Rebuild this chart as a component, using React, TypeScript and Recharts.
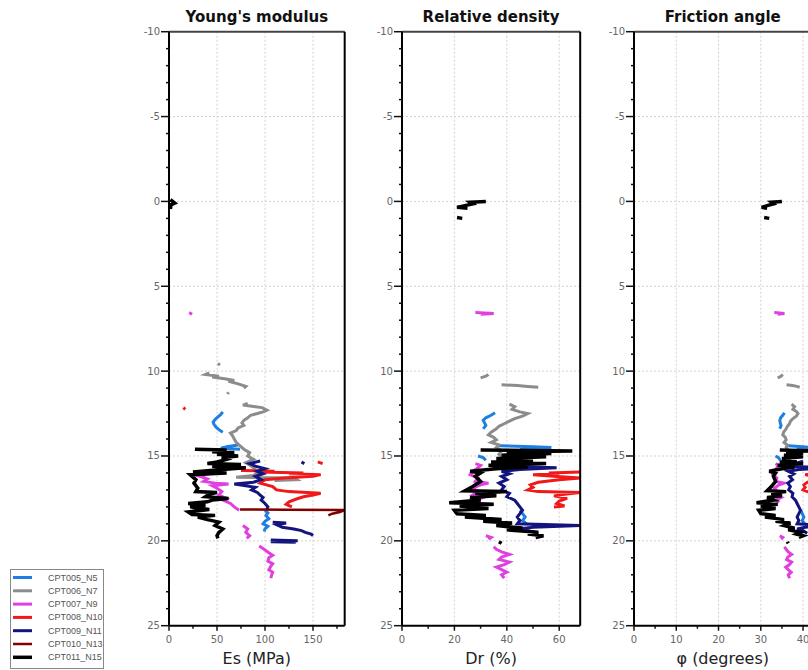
import { LineChart, Line, XAxis, YAxis, ReferenceLine } from "recharts";

type Pt = [number, number] | null;

const seriesNames = ["CPT005_N5", "CPT006_N7", "CPT007_N9", "CPT008_N10", "CPT009_N11", "CPT010_N13", "CPT011_N15"];
const seriesColors = ["#1f7fe0", "#8c8c8c", "#e040e0", "#f01818", "#14147f", "#800000", "#000000"];
const seriesWidths = [3, 3, 3, 3, 3, 2.5, 3.5];

const depthTicks = [-10, -9, -8, -7, -6, -5, -4, -3, -2, -1, 0, 1, 2, 3, 4, 5, 6, 7, 8, 9, 10, 11, 12, 13, 14, 15, 16, 17, 18, 19, 20, 21, 22, 23, 24, 25];
const depthLabels = [-10, -5, 0, 5, 10, 15, 20, 25];

const esTicks = [0, 25, 50, 75, 100, 125, 150, 175];
const esLabels = [0, 50, 100, 150];
const drTicks = [0, 10, 20, 30, 40, 50, 60];
const drLabels = [0, 20, 40, 60];
const phiTicks = [0, 5, 10, 15, 20, 25, 30, 35, 40];
const phiLabels = [0, 10, 20, 30, 40];

// Young's modulus, [depth (m), Es (MPa)]; null = gap in the trace
const esCpt005: Pt[] = [
  [12.4, 56], [12.55, 54], [12.7, 51], [12.85, 48], [13.0, 46], [13.15, 47], [13.3, 49], [13.45, 52], [13.6, 56], null,
  [14.35, 72], [14.45, 60], [14.55, 54], [14.6, 74], null,
  [18.2, 100], [18.35, 103], [18.5, 101], [18.7, 104], [18.85, 100], [19.0, 98], [19.15, 103], [19.3, 100], [19.45, 99],
];
const esCpt006: Pt[] = [
  [9.55, 51], [9.65, 53], null,
  [10.1, 42], [10.2, 38], [10.3, 52], [10.35, 45], [10.45, 58], [10.55, 68], [10.6, 62], [10.75, 72], [10.9, 80], [11.0, 78], null,
  [11.25, 62], [11.35, 61], null,
  [11.9, 82], [12.0, 77], [12.1, 90], [12.15, 97], [12.3, 102], [12.4, 98], [12.5, 92], [12.6, 85], [12.75, 82], [12.9, 78],
  [13.05, 76], [13.2, 78], [13.35, 72], [13.5, 70], [13.65, 64], [13.8, 66], [14.0, 68], [14.2, 70], [14.4, 74], [14.6, 78],
  [14.8, 84], [15.0, 82], [15.2, 88], [15.4, 80], [15.6, 86], [15.8, 90], [16.0, 92], [16.15, 88], [16.25, 70], [16.3, 130],
  [16.4, 133], [16.45, 110],
];
const esCpt007: Pt[] = [
  [6.55, 21], [6.65, 24], null,
  [16.0, 44], [16.1, 38], [16.2, 32], [16.35, 40], [16.5, 36], [16.6, 48], [16.65, 62], [16.75, 45], [16.9, 50], [17.1, 55],
  [17.3, 52], [17.5, 60], [17.6, 56], [17.8, 64], [18.0, 68], [18.2, 73], null,
  [19.1, 77], [19.3, 82], [19.5, 80], [19.7, 84], [19.85, 81], null,
  [20.3, 94], [20.5, 99], [20.7, 104], [20.85, 108], [21.0, 104], [21.2, 103], [21.35, 108], [21.5, 106], [21.7, 104],
  [21.85, 108], [22.0, 107], [22.2, 106],
];
const esCpt008: Pt[] = [
  [12.15, 15], [12.25, 17], null,
  [15.35, 155], [15.45, 160], null,
  [15.85, 75], [15.9, 110], [15.95, 95], [16.0, 140], [16.05, 125], [16.1, 158], [16.2, 150], [16.3, 120], [16.4, 100],
  [16.6, 95], [16.8, 108], [17.0, 112], [17.1, 125], [17.2, 158], [17.3, 150], [17.4, 140], [17.55, 132], [17.7, 125],
  [17.85, 122], [18.0, 128],
];
const esCpt009: Pt[] = [
  [15.35, 138], [15.45, 141], null,
  [15.3, 95], [15.45, 84], [15.6, 90], [15.75, 100], [15.9, 92], [16.05, 98], [16.2, 90], [16.4, 96], [16.55, 88], [16.65, 68],
  [16.75, 80], [16.85, 90], [17.0, 86], [17.15, 92], [17.3, 95], [17.45, 98], [17.6, 96], [17.8, 100], [18.0, 103], [18.15, 102], null,
  [18.9, 108], [18.95, 122], [19.05, 112], [19.2, 118], [19.3, 130], [19.4, 138], [19.5, 142], [19.6, 148], [19.7, 150], null,
  [19.95, 106], [20.0, 134], [20.05, 106], [20.08, 132],
];
const esCpt010: Pt[] = [
  [18.15, 74], [18.17, 120], [18.18, 183], [18.3, 178], [18.4, 170], [18.5, 166],
];
const esCpt011: Pt[] = [
  [-0.1, 1.5], [0.1, 6], [0.2, 2], [0.45, 1.5], null,
  [14.6, 27], [14.65, 60], [14.75, 45], [14.8, 68], [14.9, 50], [15.0, 72], [15.1, 55], [15.2, 60], [15.35, 50], [15.45, 40],
  [15.5, 75], [15.6, 45], [15.7, 80], [15.8, 55], [15.95, 25], [16.0, 60], [16.1, 22], [16.2, 24], [16.4, 28], [16.6, 26],
  [16.9, 30], [17.1, 28], [17.15, 50], [17.25, 42], [17.4, 38], [17.5, 62], [17.6, 45], [17.7, 40], [17.8, 20], [17.9, 38],
  [18.0, 22], [18.15, 42], [18.3, 20], [18.45, 24], [18.5, 48], [18.6, 30], [18.75, 40], [18.9, 52], [19.1, 48], [19.3, 56],
  [19.5, 52], [19.7, 50], [19.85, 51],
];

// Relative density, [depth (m), Dr (%)]
const drCpt005: Pt[] = [
  [12.45, 35.5], [12.6, 34], [12.75, 32], [12.9, 31], [13.05, 31.5], [13.2, 32], [13.4, 31], null,
  [14.4, 37], [14.45, 50], [14.5, 57], [14.6, 45], null,
  [15.0, 29], [15.1, 31], [15.25, 32], null,
  [18.2, 45], [18.4, 46], [18.6, 47], [18.8, 46], [19.0, 47.5],
];
const drCpt006: Pt[] = [
  [10.2, 33], [10.3, 32], [10.4, 30], null,
  [10.8, 38], [10.85, 44], [10.9, 48], [10.95, 52], null,
  [11.95, 41], [12.1, 43], [12.25, 42], [12.4, 45], [12.5, 48], [12.65, 46], [12.8, 43], [12.95, 41], [13.1, 39], [13.25, 37],
  [13.4, 36], [13.6, 34], [13.75, 33], [13.9, 35], [14.05, 36], [14.2, 34], [14.35, 37], [14.5, 36], [14.7, 38], [14.9, 37],
  [15.1, 39], [15.3, 37],
];
const drCpt007: Pt[] = [
  [6.55, 28], [6.6, 35], [6.65, 30], null,
  [15.45, 28], [15.55, 30], [15.7, 29], [15.9, 27], [16.1, 26], [16.3, 29], [16.5, 28], [16.6, 33], [16.7, 30], [16.9, 27],
  [17.1, 29], [17.3, 27], [17.45, 31], [17.6, 28], [17.75, 30], null,
  [19.7, 32], [19.8, 34], [19.9, 33], null,
  [20.35, 35], [20.5, 36], [20.65, 38], [20.8, 41], [20.95, 38], [21.1, 37], [21.25, 41], [21.4, 39], [21.55, 36], [21.7, 38],
  [21.85, 40], [22.0, 38], [22.2, 39],
];
const drCpt008: Pt[] = [
  [15.95, 68], [16.0, 56], [16.05, 60], [16.1, 50], [16.2, 58], [16.3, 68], [16.4, 60], [16.55, 52], [16.7, 49], [16.85, 50],
  [17.0, 48], [17.1, 52], [17.15, 68], [17.25, 62], [17.35, 58], [17.5, 63], [17.65, 60], [17.8, 59], [17.95, 62], [18.0, 58],
];
const drCpt009: Pt[] = [
  [15.3, 48], [15.45, 42], [15.6, 38], [15.7, 59], [15.8, 45], [15.9, 38], [16.05, 41], [16.2, 38], [16.4, 40], [16.6, 37],
  [16.8, 39], [17.0, 38], [17.2, 41], [17.4, 40], [17.6, 43], [17.8, 44], [18.0, 45], [18.2, 46], [18.4, 45], [18.6, 44],
  [18.8, 45], [19.0, 44], [19.1, 68], [19.2, 50], [19.3, 44], [19.4, 48], [19.55, 52],
];
const drCpt010: Pt[] = [];
const drCpt011: Pt[] = [
  [0.0, 32], [0.05, 26], [0.15, 27], [0.25, 24], [0.35, 21], [0.4, 25], null,
  [0.95, 21], [1.0, 23], null,
  [14.65, 30], [14.7, 65], [14.75, 40], [14.85, 57], [14.95, 38], [15.05, 55], [15.15, 36], [15.25, 50], [15.35, 34],
  [15.45, 55], [15.55, 33], [15.65, 48], [15.75, 36], [15.9, 26], [16.0, 30], [16.2, 28], [16.5, 30], [16.8, 27], [17.05, 24],
  [17.1, 40], [17.2, 28], [17.35, 36], [17.45, 26], [17.6, 30], [17.75, 18], [17.85, 35], [17.95, 22], [18.1, 33], [18.2, 20],
  [18.4, 21], [18.5, 32], [18.6, 24], [18.75, 38], [18.85, 31], [18.95, 42], [19.1, 36], [19.25, 46], [19.35, 40], [19.5, 52],
  [19.6, 48], [19.7, 54], [19.8, 51], null,
  [20.05, 37], [20.15, 38],
];

// Friction angle, [depth (m), phi (degrees)]
const phiCpt005: Pt[] = [
  [12.45, 35.6], [12.6, 35.2], [12.75, 34.7], [12.9, 34.5], [13.05, 34.6], [13.2, 34.8], [13.4, 34.5], null,
  [14.4, 36.5], [14.45, 40], [14.5, 42], [14.6, 38.5], null,
  [15.0, 33.5], [15.1, 34.2], [15.25, 34.6], null,
  [18.2, 39.5], [18.4, 39.8], [18.6, 40.2], [18.8, 39.8], [19.0, 40.4],
];
const phiCpt006: Pt[] = [
  [10.2, 35.2], [10.3, 34.8], [10.4, 34], null,
  [10.8, 36.1], [10.85, 37.5], [10.9, 38.5], [10.95, 39.2], null,
  [11.95, 37.3], [12.1, 38], [12.25, 37.6], [12.4, 38.5], [12.5, 38.8], [12.65, 38.4], [12.8, 37.6], [12.95, 37], [13.1, 36.8],
  [13.25, 36.3], [13.4, 36], [13.6, 35.4], [13.75, 35.2], [13.9, 35.8], [14.05, 36], [14.2, 35.5], [14.35, 36.3], [14.5, 36],
  [14.7, 36.6], [14.9, 36.4], [15.1, 37], [15.3, 36.5],
];
const phiCpt007: Pt[] = [
  [6.55, 33.2], [6.6, 35.6], [6.65, 34], null,
  [15.45, 33.5], [15.55, 34.2], [15.7, 33.8], [15.9, 33.2], [16.1, 32.8], [16.3, 33.8], [16.5, 33.5], [16.6, 35.5], [16.7, 34.3],
  [16.9, 33.2], [17.1, 34], [17.3, 33.2], [17.45, 34.8], [17.6, 33.6], [17.75, 34.3], null,
  [19.7, 34.5], [19.8, 35.2], [19.9, 34.8], null,
  [20.35, 35.6], [20.5, 36], [20.65, 36.5], [20.8, 37.3], [20.95, 36.4], [21.1, 36.1], [21.25, 37.3], [21.4, 36.8], [21.55, 35.9],
  [21.7, 36.5], [21.85, 37.2], [22.0, 36.5], [22.2, 36.8],
];
const phiCpt008: Pt[] = [
  [15.95, 45], [16.0, 42], [16.05, 43], [16.1, 40.5], [16.2, 42.5], [16.3, 45], [16.4, 43], [16.55, 41], [16.7, 40.2],
  [16.85, 40.5], [17.0, 40], [17.1, 41], [17.15, 45], [17.25, 43.5], [17.35, 42.5], [17.5, 43.5], [17.65, 43], [17.8, 42.5],
  [17.95, 43.5], [18.0, 42.5],
];
const phiCpt009: Pt[] = [
  [15.3, 40], [15.45, 38], [15.6, 36.5], [15.7, 45], [15.8, 39], [15.9, 36.5], [16.05, 37.8], [16.2, 36.8], [16.4, 37.5],
  [16.6, 36.4], [16.8, 37], [17.0, 36.6], [17.2, 37.6], [17.4, 37.4], [17.6, 38.2], [17.8, 38.6], [18.0, 39], [18.2, 39.4],
  [18.4, 39], [18.6, 38.6], [18.8, 39], [19.0, 38.6], [19.1, 46], [19.2, 40.5], [19.3, 38.6], [19.4, 40], [19.55, 41],
];
const phiCpt010: Pt[] = [];
const phiCpt011: Pt[] = [
  [0.0, 35], [0.05, 32.5], [0.15, 33], [0.25, 31.5], [0.35, 30.2], [0.4, 31.5], null,
  [0.95, 30.8], [1.0, 32], null,
  [14.65, 34.5], [14.7, 42], [14.75, 36], [14.85, 40], [14.95, 35.5], [15.05, 40], [15.15, 35], [15.25, 38.5], [15.35, 34.5],
  [15.45, 40], [15.55, 34], [15.65, 38], [15.75, 35], [15.9, 32], [16.0, 33.5], [16.2, 33], [16.5, 33.5], [16.8, 32.5],
  [17.05, 31.5], [17.1, 36], [17.2, 32.5], [17.35, 35], [17.45, 31.5], [17.6, 33], [17.75, 29], [17.85, 34], [17.95, 30],
  [18.1, 33.5], [18.2, 29.5], [18.4, 30], [18.5, 33.5], [18.6, 31], [18.75, 35.5], [18.85, 33.5], [18.95, 37], [19.1, 35.5],
  [19.25, 38], [19.35, 36.5], [19.5, 39.5], [19.6, 38.5], [19.7, 40], [19.8, 39], null,
  [20.05, 36.3], [20.15, 36.5],
];

const esSeries = [esCpt005, esCpt006, esCpt007, esCpt008, esCpt009, esCpt010, esCpt011];
const drSeries = [drCpt005, drCpt006, drCpt007, drCpt008, drCpt009, drCpt010, drCpt011];
const phiSeries = [phiCpt005, phiCpt006, phiCpt007, phiCpt008, phiCpt009, phiCpt010, phiCpt011];

// split a trace at its gaps, one Line per piece
function toSegments(pts: Pt[]) {
  const out: { d: number; v: number }[][] = [];
  let cur: { d: number; v: number }[] = [];
  pts.forEach((p) => {
    if (p) cur.push({ d: p[0], v: p[1] });
    else {
      if (cur.length) out.push(cur);
      cur = [];
    }
  });
  if (cur.length) out.push(cur);
  return out;
}

const PLOT_TOP = 31.7;
const AXIS_H = 44.3;
const YAXIS_W = 40;
const RIGHT_PAD = 4;
const GRID = "#d2d2d2";

function DepthTick(props: any) {
  const { x, y, payload } = props;
  const major = depthLabels.includes(payload.value);
  return (
    <g>
      <line x1={x} x2={x - (major ? 8 : 3)} y1={y} y2={y} stroke="#111" strokeWidth={1.5} />
      {major && (
        <text x={x - 9} y={y} dy={3.5} textAnchor="end" fontSize={10} fill="#666" fontFamily="DejaVu Sans">
          {payload.value}
        </text>
      )}
    </g>
  );
}

function makeValueTick(labels: number[]) {
  return function ValueTick(props: any) {
    const { x, y, payload } = props;
    const major = labels.includes(payload.value);
    return (
      <g>
        <line x1={x} x2={x} y1={y} y2={y + (major ? 5 : 3)} stroke="#111" strokeWidth={1.5} />
        {major && (
          <text x={x} y={y + 17} textAnchor="middle" fontSize={10} fill="#666" fontFamily="DejaVu Sans">
            {payload.value}
          </text>
        )}
      </g>
    );
  };
}

type PanelProps = {
  plotLeft: number;
  plotWidth: number;
  title: string;
  unit: string;
  domain: [number, number];
  ticks: number[];
  labels: number[];
  series: Pt[][];
};

function Panel({ plotLeft, plotWidth, title, unit, domain, ticks, labels, series }: PanelProps) {
  const width = YAXIS_W + plotWidth + 1 + RIGHT_PAD;
  const ValueTick = makeValueTick(labels);
  return (
    <div style={{ position: "absolute", left: plotLeft - YAXIS_W, top: 0 }}>
      <LineChart
        width={width}
        height={670}
        layout="vertical"
        margin={{ top: PLOT_TOP - 1, right: RIGHT_PAD, bottom: 0, left: 0 }}
      >
        <XAxis
          type="number"
          domain={domain}
          allowDataOverflow
          ticks={ticks}
          interval={0}
          height={AXIS_H}
          tickSize={0}
          tickMargin={0}
          tickLine={false}
          tick={<ValueTick />}
          axisLine={{ stroke: "#000", strokeWidth: 2 }}
          label={{ value: unit, position: "insideBottom", offset: 6, fontSize: 16, fill: "#222" }}
        />
        <XAxis
          xAxisId="top"
          orientation="top"
          type="number"
          domain={domain}
          allowDataOverflow
          height={1}
          tick={false}
          tickLine={false}
          axisLine={{ stroke: "#444", strokeWidth: 2 }}
          label={{ value: title, position: "top", offset: 9, fontSize: 15, fontWeight: "bold", fill: "#111" }}
        />
        <YAxis
          type="number"
          dataKey="d"
          domain={[-10, 25]}
          allowDataOverflow
          ticks={depthTicks}
          interval={0}
          width={YAXIS_W}
          tickSize={0}
          tickMargin={0}
          tickLine={false}
          tick={<DepthTick />}
          axisLine={{ stroke: "#000", strokeWidth: 2 }}
        />
        <YAxis
          yAxisId="right"
          orientation="right"
          type="number"
          domain={[-10, 25]}
          width={1}
          tick={false}
          tickLine={false}
          axisLine={{ stroke: "#000", strokeWidth: 2 }}
        />
        {depthLabels.slice(1, -1).map((v) => (
          <ReferenceLine key={"h" + v} y={v} stroke={GRID} strokeDasharray="2 2" />
        ))}
        {labels.slice(1).map((v) => (
          <ReferenceLine key={"v" + v} x={v} stroke={GRID} strokeDasharray="2 2" />
        ))}
        {series.map((pts, i) =>
          toSegments(pts).map((seg, j) => (
            <Line
              key={seriesNames[i] + "-" + j}
              data={seg}
              dataKey="v"
              type="linear"
              stroke={seriesColors[i]}
              strokeWidth={seriesWidths[i]}
              dot={false}
              activeDot={false}
              isAnimationActive={false}
            />
          ))
        )}
      </LineChart>
    </div>
  );
}

function LegendBox() {
  const rowGap = 13.3;
  return (
    <svg style={{ position: "absolute", left: 10, top: 569 }} width={96} height={101}>
      <rect x={0.5} y={0.5} width={93} height={99} fill="#fff" stroke="#888" />
      {seriesNames.map((n, i) => (
        <g key={n}>
          <line x1={3} x2={22} y1={8.5 + i * rowGap} y2={8.5 + i * rowGap} stroke={seriesColors[i]} strokeWidth={seriesWidths[i]} />
          <text x={38} y={8.5 + i * rowGap + 3} fontSize={9} fill="#555" fontFamily="Liberation Sans">
            {n}
          </text>
        </g>
      ))}
    </svg>
  );
}

export default function App() {
  return (
    <div
      style={{
        position: "absolute",
        left: 0,
        top: 0,
        width: 808,
        height: 670,
        overflow: "hidden",
        background: "#fff",
        fontFamily: "'DejaVu Sans', sans-serif",
      }}
    >
      <Panel plotLeft={169.3} plotWidth={175.7} title="Young's modulus" unit="Es (MPa)" domain={[0, 183]} ticks={esTicks} labels={esLabels} series={esSeries} />
      <Panel plotLeft={401.7} plotWidth={178.2} title="Relative density" unit="Dr (%)" domain={[0, 68]} ticks={drTicks} labels={drLabels} series={drSeries} />
      <Panel plotLeft={634.3} plotWidth={177.5} title="Friction angle" unit="φ (degrees)" domain={[0, 42]} ticks={phiTicks} labels={phiLabels} series={phiSeries} />
      <LegendBox />
    </div>
  );
}
